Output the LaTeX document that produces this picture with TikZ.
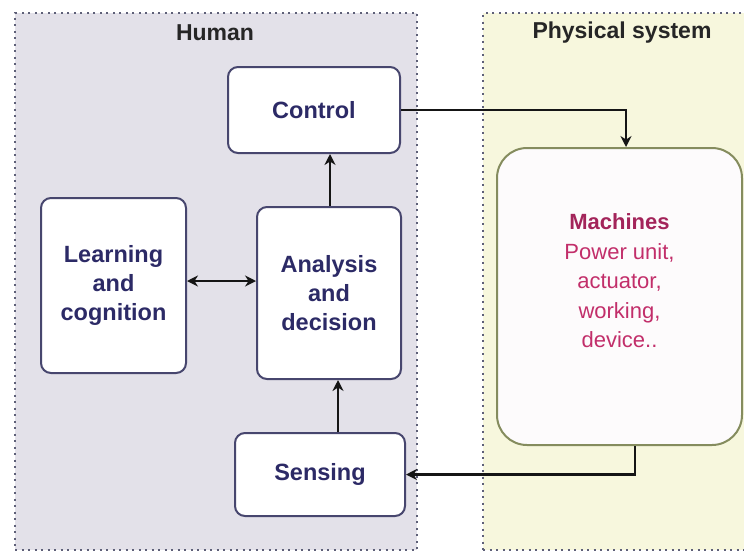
\documentclass[tikz,border=0pt]{standalone}
\usepackage{fontspec}
\setmainfont{Liberation Sans}
\usetikzlibrary{arrows.meta}
\definecolor{humanbg}{HTML}{E3E1E9}
\definecolor{physbg}{HTML}{F7F7DD}
\definecolor{hborder}{HTML}{47466E}
\definecolor{htext}{HTML}{2C2A66}
\definecolor{mborder}{HTML}{858C5E}
\definecolor{mfill}{HTML}{FDFBFC}
\definecolor{mtext}{HTML}{C22E6A}
\definecolor{mtitle}{HTML}{A3245A}
\definecolor{dotc}{HTML}{5E6078}
\definecolor{linec}{HTML}{151515}
\begin{document}
\begin{tikzpicture}[x=1pt,y=-1pt,
  container/.style={draw=dotc, line width=2.4pt, dash pattern=on 2pt off 4.5pt, inner sep=0, outer sep=0},
  hbox/.style={draw=hborder, line width=2pt, fill=white, rounded corners=10pt, inner sep=0,
    font=\fontsize{23.5}{29}\selectfont\bfseries, text=htext, align=center},
  mbox/.style={draw=mborder, line width=2pt, fill=mfill, rounded corners=30pt, inner sep=0},
  title/.style={font=\fontsize{23}{28}\selectfont\bfseries, text=black!85},
  arr/.style={draw=linec, line width=2.4pt, -{Stealth[length=11pt,width=11pt]}},
  arrb/.style={draw=linec, line width=2.4pt, {Stealth[length=11pt,width=11pt]}-{Stealth[length=11pt,width=11pt]}}
]
\useasboundingbox (0,0) rectangle (744,552);
\clip (0,0) rectangle (744,552);
\fill[white] (0,0) rectangle (744,552);
% containers
\node[container, fill=humanbg, minimum width=402pt, minimum height=537pt] (human) at (216,281.5) {};
\node[container, fill=physbg, minimum width=270pt, minimum height=537pt] (phys) at (618,281.5) {};
\node[title] (humanlbl) at (215,33) {Human};
\node[title] (physlbl) at (622,33) {Physical system};
% human boxes
\node[hbox, minimum width=172pt, minimum height=86pt] (control) at (314,110) {Control};
\node[hbox, minimum width=145pt, minimum height=175pt] (learning) at (113.5,285.5) {Learning\\and\\cognition};
\node[hbox, minimum width=144pt, minimum height=172pt] (analysis) at (329,293) {Analysis\\and\\decision};
\node[hbox, minimum width=170pt, minimum height=83pt] (sensing) at (320,474.5) {Sensing};
% machine
\node[mbox, minimum width=245pt, minimum height=297pt] (machine) at (619.5,296.5) {};
\node[align=center, font=\fontsize{22}{29.5}\selectfont, text=mtext] (mtxt) at (619.5,281)
  {\textbf{\color{mtitle}Machines}\\Power unit,\\actuator,\\working,\\device..};
% connectors
\coordinate (cx) at (626,0);
\coordinate (sx) at (635,0);
\coordinate (ax) at (330,0);
\coordinate (bx) at (338,0);
\coordinate (ly) at (0,281);
\draw[arr] (control.east) -| (cx |- machine.north);
\draw[arr] (sx |- machine.south) |- (sensing.east);
\draw[arr] (ax |- analysis.north) -- (ax |- control.south);
\draw[arr] (bx |- sensing.north) -- (bx |- analysis.south);
\draw[arrb] (learning.east |- ly) -- (analysis.west |- ly);
\end{tikzpicture}
\end{document}
